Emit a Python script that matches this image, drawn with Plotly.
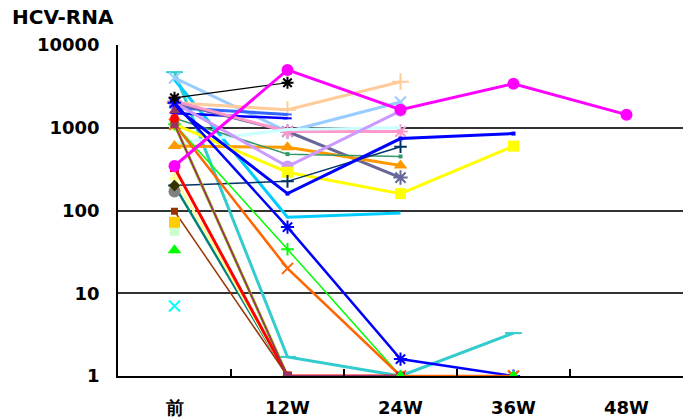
import plotly.graph_objects as go

categories = ["前", "12W", "24W", "36W", "48W"]
y_tickvals = [1, 10, 100, 1000, 10000]
y_ticktext = ["1", "10", "100", "1000", "10000"]

# series values (None = no measurement)
s_teal_line   = [4700, 1.7, 1, 3.3, None]
s_deepsky     = [3800, 83, 93, None, None]
s_lightblue   = [4000, 900, 2050, None, None]
s_peach       = [2000, 1650, 3600, None, None]
s_blue_a      = [1750, 1450, None, None, None]
s_blue_b      = [1500, 1300, None, None, None]
s_slate       = [2000, 900, 250, None, None]
s_pink        = [2100, 900, 900, None, None]
s_palecyan    = [650, 950, 1000, None, None]
s_orange_tri  = [600, 580, 350, None, None]
s_seagreen    = [1300, 480, 450, None, None]
s_lavender    = [2000, 340, 1600, None, None]
s_yellow      = [1100, 290, 160, 600, None]
s_navy        = [200, 225, 590, None, None]
s_blue_thick  = [1800, 160, 740, 850, None]
s_blue_x      = [2000, 63, 1.6, 1, None]
s_green_plus  = [1100, 34, 1, None, None]
s_orange_x    = [1100, 20, 1, 1, None]
s_red         = [330, 1, 1, None, None]
s_brown       = [98, 1, None, None, None]
s_teal        = [200, 1, None, None, None]
s_lightyellow = [250, 1, None, None, None]
s_yellowgreen = [1100, 1, None, None, None]
s_purple      = [1100, 1, 1, None, None]
s_black       = [2300, 3500, None, None, None]
s_magenta     = [345, 5000, 1650, 3400, 1440]
# single markers
s_cyan_x      = [7, None, None, None, None]
s_green_tri   = [33, None, 1, 1, None]
s_palegreen   = [57, None, None, None, None]
s_gold        = [72, None, None, None, None]
s_gray        = [170, None, None, None, None]
s_red_dot     = [1300, None, None, None, None]
s_maroon_tri  = [1600, None, None, None, None]
s_dark_dia    = [200, None, None, None, None]

styles = [
    (s_teal_line, "#33CCCC", 3, "line-ew-open", 12),
    (s_deepsky, "#00CCFF", 3, "circle", 0),
    (s_lightblue, "#99CCFF", 3, "x-thin-open", 11),
    (s_peach, "#FFCC99", 3, "cross-thin-open", 12),
    (s_blue_a, "#3366FF", 3, "line-ew-open", 6),
    (s_blue_b, "#0000FF", 2.5, "line-ew-open", 6),
    (s_slate, "#666699", 3, "asterisk-open", 12),
    (s_pink, "#FF99CC", 3, "asterisk-open", 12),
    (s_palecyan, "#CCFFFF", 3, "circle", 0),
    (s_orange_tri, "#FF9900", 3, "triangle-up", 12),
    (s_seagreen, "#339966", 1.5, "square", 4),
    (s_lavender, "#CC99FF", 3, "circle", 12),
    (s_yellow, "#FFFF00", 3, "square", 11),
    (s_navy, "#003366", 1.5, "cross-thin-open", 9),
    (s_blue_thick, "#0000FF", 3, "square", 4),
    (s_blue_x, "#0000FF", 2.5, "asterisk-open", 11),
    (s_green_plus, "#00FF00", 1.5, "cross-thin-open", 9),
    (s_orange_x, "#FF6600", 2.5, "x-thin-open", 11),
    (s_teal, "#008080", 2.5, "circle", 0),
    (s_lightyellow, "#FFFF99", 2.5, "triangle-up", 11),
    (s_yellowgreen, "#99CC00", 3, "circle", 10),
    (s_red, "#FF0000", 3, "square", 9),
    (s_brown, "#993300", 1.5, "square", 7),
    (s_purple, "#993366", 1.8, "square", 8),
    (s_black, "#000000", 1.2, "asterisk-open", 10),
    (s_magenta, "#FF00FF", 3, "circle", 12),
]

markers_only = [
    (s_cyan_x, "#00FFFF", "x-thin-open", 11),
    (s_green_tri, "#00FF00", "triangle-up", 12),
    (s_palegreen, "#CCFFCC", "square", 10),
    (s_gold, "#FFCC00", "square", 11),
    (s_gray, "#808080", "circle", 12),
    (s_red_dot, "#FF0000", "circle", 9),
    (s_maroon_tri, "#993366", "triangle-up", 10),
    (s_dark_dia, "#333300", "diamond", 9),
]

fig = go.Figure()

for vals, color, width, sym, size in styles:
    open_sym = sym.endswith("open")
    fig.add_trace(go.Scatter(
        x=categories, y=vals, mode="lines+markers" if size else "lines",
        line=dict(color=color, width=width),
        marker=dict(symbol=sym, size=size, color=color,
                    line=dict(color=color, width=2 if open_sym else 0)),
        connectgaps=False, showlegend=False, hoverinfo="skip"))

for vals, color, sym, size in markers_only:
    open_sym = sym.endswith("open")
    fig.add_trace(go.Scatter(
        x=categories, y=vals, mode="markers",
        marker=dict(symbol=sym, size=size, color=color,
                    line=dict(color=color, width=2 if open_sym else 0)),
        showlegend=False, hoverinfo="skip"))

fig.update_layout(
    width=683, height=419,
    margin=dict(l=118, r=0, t=45, b=43, autoexpand=False),
    paper_bgcolor="white", plot_bgcolor="white",
    font=dict(family="DejaVu Sans", color="black"),
)
fig.add_annotation(text="<b>HCV-RNA</b>", xref="paper", yref="paper",
                   x=-108/565, y=1 + 28/331, xanchor="left", yanchor="middle",
                   showarrow=False, font=dict(size=20, family="DejaVu Sans", color="black"))

fig.update_xaxes(
    type="category", categoryorder="array", categoryarray=categories,
    range=[-0.5, 4.5], showline=True, linecolor="black", linewidth=1.5,
    ticks="inside", tickson="boundaries", ticklen=7, tickcolor="black", tickwidth=1.5,
    showgrid=False, tickfont=dict(size=18, family="DejaVu Sans", color="black"),
    ticklabelstandoff=15, automargin=False,
    tickmode="array", tickvals=categories,
    ticktext=["<b>%s</b>" % c for c in categories],
)

fig.update_yaxes(
    type="log", range=[0, 4], tickmode="array", tickvals=y_tickvals,
    ticktext=["<b>%s</b>" % t for t in y_ticktext],
    showline=True, linecolor="black", linewidth=1.5,
    showgrid=True, gridcolor="#333333", gridwidth=1.5,
    ticks="", tickfont=dict(size=18, family="DejaVu Sans", color="black"),
    ticklabelstandoff=13, automargin=False,
)

fig.write_html("out.html", config={"displayModeBar": False},
               post_script="document.body.style.margin='0';")
